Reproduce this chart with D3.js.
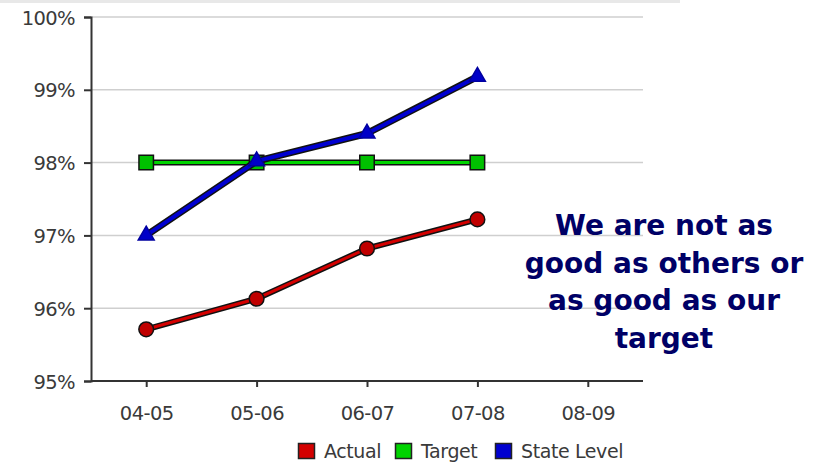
<!DOCTYPE html>
<html>
<head>
<meta charset="utf-8">
<script src="https://cdn.jsdelivr.net/npm/d3@7"></script>
<style>
  body { margin: 0; background: #fff; }
  svg { display: block; }
</style>
</head>
<body>
<div id="chart"></div>
<script>
// data
var years = ["04-05", "05-06", "06-07", "07-08", "08-09"];
var actual = [95.71, 96.13, 96.82, 97.22];
var target = [98, 98, 98, 98];
var stateLevel = [97.0, 98.02, 98.4, 99.18];
var yTicks = [95, 96, 97, 98, 99, 100];
var note = ["We are not as", "good as others or", "as good as our", "target"];

var W = 821, H = 463;
var margin = {top: 17, right: 178, bottom: 82, left: 91};

var svg = d3.select("#chart").append("svg")
  .attr("width", W).attr("height", H);

// faint strip at top
svg.append("rect").attr("x", 0).attr("y", 0).attr("width", 680).attr("height", 3).attr("fill", "#e8e8e8");

var x = d3.scalePoint()
  .domain(years)
  .range([margin.left, W - margin.right])
  .padding(0.5);

var y = d3.scaleLinear()
  .domain([95, 100])
  .range([H - margin.bottom, margin.top]);

var tickFont = "Tahoma, 'DejaVu Sans', sans-serif";

// grid lines
svg.append("g")
  .selectAll("line")
  .data(yTicks.slice(1))
  .join("line")
    .attr("x1", margin.left).attr("x2", W - margin.right)
    .attr("y1", d => y(d)).attr("y2", d => y(d))
    .attr("stroke", "#cfcfcf").attr("stroke-width", 1.5);

// y axis
var yAxis = svg.append("g")
  .attr("transform", "translate(" + margin.left + ",0)")
  .call(d3.axisLeft(y).tickValues(yTicks).tickFormat(d => d + "%").tickSize(7).tickPadding(9));
yAxis.select(".domain").attr("stroke", "#333").attr("stroke-width", 2);
yAxis.selectAll(".tick line").attr("stroke", "#333").attr("stroke-width", 2);
yAxis.selectAll("text").attr("font-family", tickFont).attr("font-size", 19.5).attr("fill", "#3a3a3a")
  .attr("letter-spacing", -0.6).attr("dy", "0.36em");

// x axis
var xAxis = svg.append("g")
  .attr("transform", "translate(0," + (H - margin.bottom) + ")")
  .call(d3.axisBottom(x).tickSize(6).tickPadding(19).tickSizeOuter(0));
xAxis.select(".domain").attr("stroke", "#333").attr("stroke-width", 2)
  .attr("d", "M" + margin.left + ",0H" + (W - margin.right));
xAxis.selectAll(".tick line").attr("stroke", "#333").attr("stroke-width", 2);
xAxis.selectAll("text").attr("font-family", tickFont).attr("font-size", 19.5).attr("fill", "#3a3a3a")
  .attr("letter-spacing", -0.6);

var series = [
  {name: "Actual", values: actual, color: "#d40000", shape: "circle"},
  {name: "Target", values: target, color: "#00d400", shape: "square"},
  {name: "State Level", values: stateLevel, color: "#0000d0", shape: "triangle"}
];

var line = d3.line()
  .x((d, i) => x(years[i]))
  .y(d => y(d));

// draw target first, then state, then actual
[series[1], series[2], series[0]].forEach(function(s) {
  var g = svg.append("g");
  var w = s.shape === "triangle" ? 4 : 3;
  g.append("path").attr("d", line(s.values))
    .attr("fill", "none").attr("stroke", "#111").attr("stroke-width", w + 3)
    .attr("stroke-linejoin", "round");
  g.append("path").attr("d", line(s.values))
    .attr("fill", "none").attr("stroke", s.color).attr("stroke-width", w)
    .attr("stroke-linejoin", "round");

  var sym = s.shape === "circle" ? d3.symbolCircle : s.shape === "square" ? d3.symbolSquare : d3.symbolTriangle;
  var size = s.shape === "circle" ? 170 : s.shape === "square" ? 210 : 110;
  g.selectAll(".pt")
    .data(s.values)
    .join("path")
      .attr("transform", (d, i) => "translate(" + x(years[i]) + "," + y(d) + ")")
      .attr("d", d3.symbol().type(sym).size(size))
      .attr("fill", s.shape === "circle" ? "#c00000" : s.shape === "square" ? "#00c000" : "#0000c8")
      .attr("stroke", s.shape === "triangle" ? "#0000a0" : "#111")
      .attr("stroke-width", 1.5);
});

// legend
var legend = svg.append("g").attr("transform", "translate(298,443)");
var legX = [0, 97, 197];
series.forEach(function(s, i) {
  var lg = legend.append("g").attr("transform", "translate(" + legX[i] + ",0)");
  lg.append("rect").attr("x", 0.5).attr("y", 0.5).attr("width", 16).attr("height", 15)
    .attr("fill", s.color).attr("stroke", "#222").attr("stroke-width", 1.5);
  lg.append("text").attr("x", 26).attr("y", 15)
    .attr("font-family", tickFont).attr("font-size", 19).attr("fill", "#3a3a3a")
    .attr("letter-spacing", -0.4)
    .text(s.name);
});

// side note
svg.append("g")
  .selectAll("text")
  .data(note)
  .join("text")
    .attr("x", 664)
    .attr("y", (d, i) => 235 + i * 37.5)
    .attr("text-anchor", "middle")
    .attr("font-family", "Tahoma, 'DejaVu Sans', sans-serif")
    .attr("font-weight", "bold")
    .attr("font-size", 28)
    .attr("fill", "#000066")
    .text(d => d);
</script>
</body>
</html>
